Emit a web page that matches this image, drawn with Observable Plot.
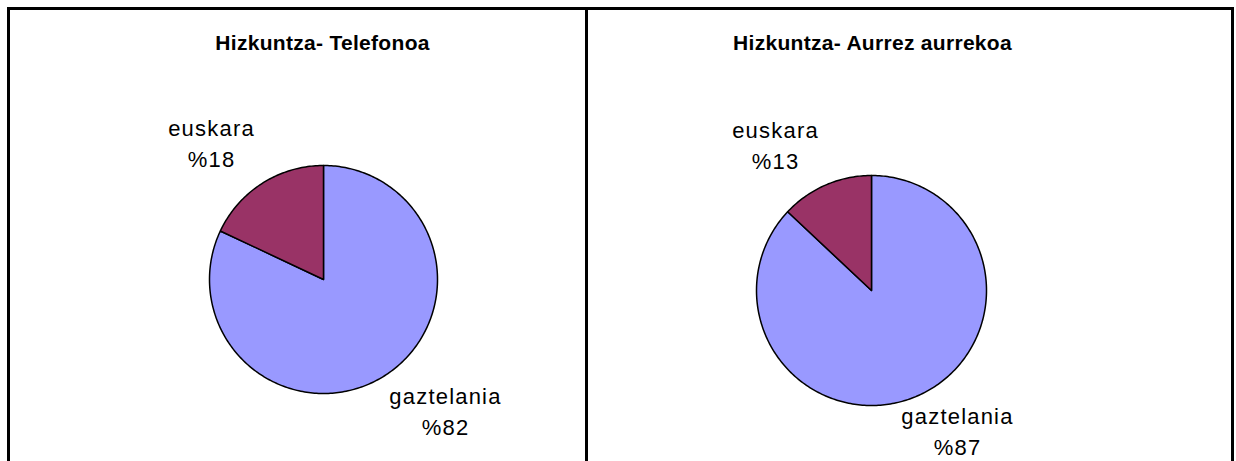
<!DOCTYPE html>
<html>
<head>
<meta charset="utf-8">
<script src="https://cdn.jsdelivr.net/npm/d3@7"></script>
<script src="https://cdn.jsdelivr.net/npm/@observablehq/plot@0.6"></script>
<style>
  html, body { margin: 0; padding: 0; background: #fff; overflow: hidden; }
  #wrap { position: relative; width: 1236px; height: 461px; }
  #chart { position: absolute; left: 0; top: 0; }
  .panel { position: absolute; top: 7px; height: 520px; box-sizing: border-box;
           border: 3px solid #000; border-bottom: none; background: transparent; }
</style>
</head>
<body>
<div id="wrap">
  <div id="chart"></div>
  <div class="panel" style="left:7px; width:581px;"></div>
  <div class="panel" style="left:585px; width:649px;"></div>
</div>
<script>
// ---- data ----
const titles = ["Hizkuntza- Telefonoa", "Hizkuntza- Aurrez aurrekoa"];
const languages = ["gaztelania", "euskara"];
const telefonoa = [82, 18];
const aurrezAurrekoa = [87, 13];
const sliceColors = ["#9999FF", "#993366"];

// ---- layout (pixels) ----
const W = 1236, H = 461;
const layout = [
  {cx: 323, cy: 279, r: 114, titleX: 322, titleY: 43,
   labels: {gaztelania: [445, 409], euskara: [211, 141]}},
  {cx: 871, cy: 290, r: 115, titleX: 872, titleY: 43,
   labels: {gaztelania: [957, 429], euskara: [775, 143]}}
];
const seriesList = [telefonoa, aurrezAurrekoa];

const pie = d3.pie().sort(null).startAngle(0).endAngle(2 * Math.PI);
const polys = [];
const labelRows = [];
const titleRows = [];
seriesList.forEach((values, p) => {
  const L = layout[p];
  titleRows.push({x: L.titleX, y: L.titleY, text: titles[p]});
  const arcs = pie(values);
  arcs.forEach((a, i) => {
    const key = p + "-" + i;
    const n = Math.max(8, Math.ceil((a.endAngle - a.startAngle) / (Math.PI / 180)));
    polys.push({key, x: L.cx, y: L.cy, color: sliceColors[i]});
    for (let k = 0; k <= n; k++) {
      const t = a.startAngle + (a.endAngle - a.startAngle) * k / n;
      polys.push({key, x: L.cx + L.r * Math.sin(t), y: L.cy - L.r * Math.cos(t), color: sliceColors[i]});
    }
    const pos = L.labels[languages[i]];
    labelRows.push({x: pos[0], y: pos[1], text: languages[i] + "\n%" + values[i]});
  });
});

const chart = Plot.plot({
  width: W, height: H,
  margin: 0,
  x: {domain: [0, W], range: [0, W], axis: null},
  y: {domain: [0, H], range: [0, H], axis: null},
  color: {type: "identity"},
  style: {background: "transparent", fontFamily: "'Liberation Sans', Arial, sans-serif"},
  marks: [
    Plot.line(polys, {x: "x", y: "y", z: "key", fill: "color", stroke: "#000", strokeWidth: 1.5, curve: "linear-closed", strokeLinejoin: "round"}),
    Plot.text(titleRows, {x: "x", y: "y", text: "text", fontSize: 21, fontWeight: "bold", fill: "#000"}),
    Plot.text(labelRows, {x: "x", y: "y", text: "text", fontSize: 22, lineHeight: 1.41, fill: "#000"})
  ]
});
chart.querySelectorAll("[font-size]").forEach(el => {
  const fs = parseFloat(el.getAttribute("font-size"));
  if (fs === 21) el.setAttribute("letter-spacing", "0.3");
  if (fs === 22) el.setAttribute("letter-spacing", "1.2");
});
document.getElementById("chart").appendChild(chart);
</script>
</body>
</html>
